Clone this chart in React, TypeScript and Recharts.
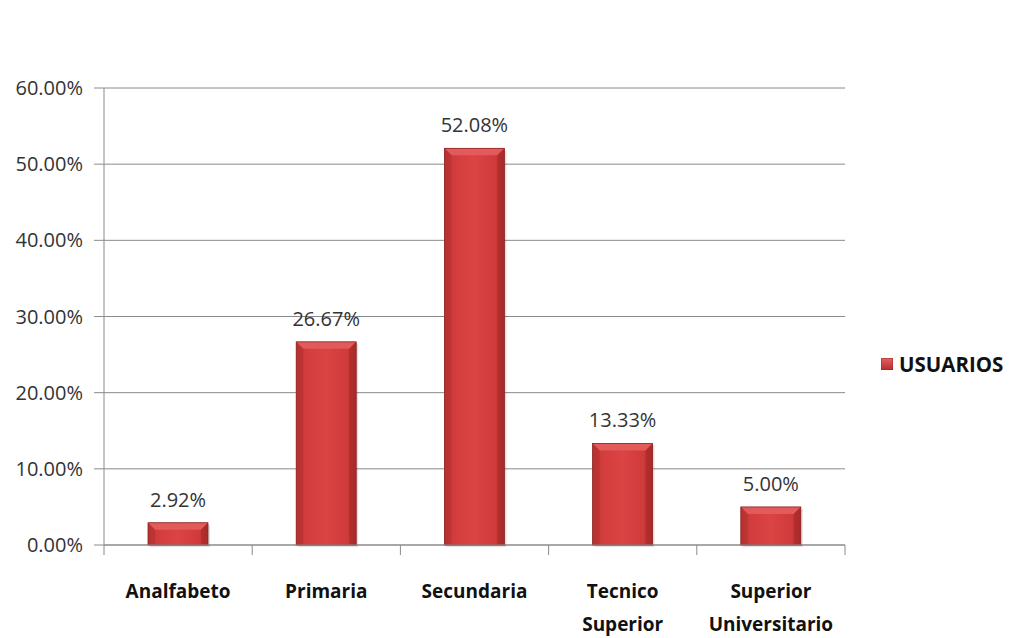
import React from 'react'
import {
  BarChart,
  Bar,
  XAxis,
  YAxis,
  CartesianGrid,
  LabelList,
} from 'recharts'

// data
const categories = ['Analfabeto', 'Primaria', 'Secundaria', 'Tecnico Superior', 'Superior Universitario']
const usuarios = [2.92, 26.67, 52.08, 13.33, 5.0]
const yTicks = [0, 10, 20, 30, 40, 50, 60]
const seriesName = 'USUARIOS'

const data = categories.map((name, i) => ({ name, usuarios: usuarios[i] }))

const W = 1010
const H = 638
const MARGIN = { top: 88, right: 165, bottom: 0, left: 0 }
const Y_WIDTH = 104
const X_HEIGHT = 93
const HALF_BAND = (W - MARGIN.left - MARGIN.right - Y_WIDTH) / categories.length / 2

const FONT = '"Open Sans", "Noto Sans", sans-serif'
const GRID = '#8a8a8a'

const pct = (v: number) => `${Number(v).toFixed(2)}%`

function CategoryTick(props: any) {
  const { x, y, payload, index } = props
  const axisY = y - 12
  const lines = String(payload.value).split(' ')
  return (
    <g>
      <line x1={x - HALF_BAND} x2={x - HALF_BAND} y1={axisY} y2={axisY + 10} stroke={GRID} />
      {index === categories.length - 1 && (
        <line x1={x + HALF_BAND} x2={x + HALF_BAND} y1={axisY} y2={axisY + 10} stroke={GRID} />
      )}
      {lines.map((l, i) => (
        <text
          key={i}
          x={x}
          y={axisY + 53 + i * 33}
          textAnchor="middle"
          fontFamily={FONT}
          fontWeight={700}
          fontSize={19}
          fill="#111"
        >
          {l}
        </text>
      ))}
    </g>
  )
}

function BevelBar(props: any) {
  const { x, y, width, height } = props
  if (!height || height <= 0) return null
  const b = Math.min(7, height / 2)
  return (
    <g>
      <rect x={x + 2} y={y + 2} width={width} height={height} fill="rgba(0,0,0,0.12)" />
      <rect x={x} y={y} width={width} height={height} fill="url(#barFill)" />
      <polygon
        points={`${x},${y} ${x + width},${y} ${x + width - b},${y + b} ${x + b},${y + b}`}
        fill="#e35a5a"
      />
      <polygon
        points={`${x},${y} ${x + b},${y + b} ${x + b},${y + height - 2} ${x},${y + height}`}
        fill="#b83232"
        opacity={0.6}
      />
      <polygon
        points={`${x + width},${y} ${x + width - b},${y + b} ${x + width - b},${y + height - 2} ${x + width},${y + height}`}
        fill="#a82a2a"
        opacity={0.6}
      />
      <rect x={x} y={y} width={width} height={height} fill="none" stroke="#8e2424" strokeWidth={0.8} />
    </g>
  )
}

function LegendBox() {
  return (
    <div
      style={{
        position: 'absolute',
        left: 881,
        top: 352,
        display: 'flex',
        alignItems: 'center',
        fontFamily: FONT,
      }}
    >
      <svg width={12} height={12} style={{ marginRight: 6 }}>
        <defs>
          <linearGradient id="barFillLegend" x1="0" y1="0" x2="0" y2="1">
            <stop offset="0" stopColor="#e86060" />
            <stop offset="1" stopColor="#b52f2f" />
          </linearGradient>
        </defs>
        <rect x={0} y={0} width={12} height={12} fill="url(#barFillLegend)" stroke="#8e2424" strokeWidth={0.8} />
      </svg>
      <span style={{ fontWeight: 700, fontSize: 20.5, color: '#111', lineHeight: '24px' }}>{seriesName}</span>
    </div>
  )
}

export default function App() {
  return (
    <div style={{ position: 'absolute', left: 0, top: 0, width: W, height: H, background: '#fff' }}>
      <BarChart width={W} height={H} data={data} margin={MARGIN}>
        <defs>
          <linearGradient id="barFill" x1="0" y1="0" x2="1" y2="0">
            <stop offset="0" stopColor="#b33030" />
            <stop offset="0.15" stopColor="#d23c3c" />
            <stop offset="0.5" stopColor="#dc4444" />
            <stop offset="0.85" stopColor="#d03a3a" />
            <stop offset="1" stopColor="#a82a2a" />
          </linearGradient>
        </defs>
        <CartesianGrid vertical={false} stroke={GRID} />
        <XAxis
          dataKey="name"
          height={X_HEIGHT}
          interval={0}
          axisLine={{ stroke: GRID }}
          tickLine={false}
          tickSize={10}
          tick={<CategoryTick />}
        />
        <YAxis
          width={Y_WIDTH}
          domain={[0, 60]}
          ticks={yTicks}
          interval={0}
          tickFormatter={pct}
          axisLine={{ stroke: GRID }}
          tickLine={{ stroke: GRID }}
          tickSize={10}
          tickMargin={11}
          tick={{ fill: '#333', fontSize: 20, fontFamily: FONT }}
        />
        <Bar
          dataKey="usuarios"
          name={seriesName}
          barSize={60}
          shape={<BevelBar />}
          isAnimationActive={false}
        >
          <LabelList
            dataKey="usuarios"
            position="top"
            offset={16}
            formatter={(v: any) => pct(v)}
            style={{ fill: '#333', fontSize: 20, fontFamily: FONT }}
          />
        </Bar>
      </BarChart>
      <LegendBox />
    </div>
  )
}
